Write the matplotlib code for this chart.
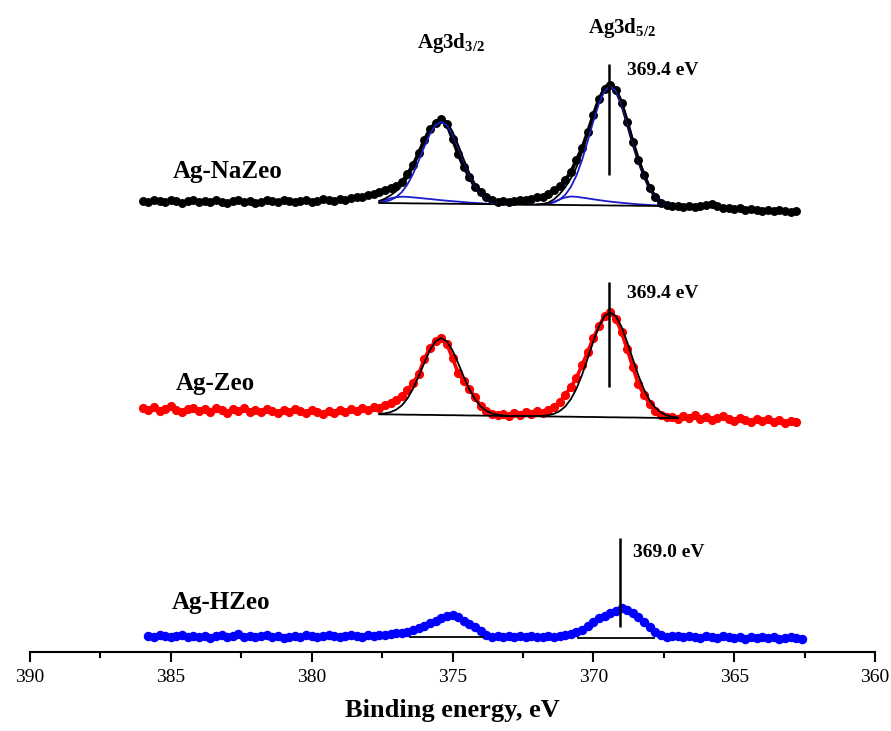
import matplotlib
matplotlib.use("Agg")
import matplotlib.pyplot as plt
import numpy as np
from matplotlib.ticker import MultipleLocator

plt.rcParams['font.family'] = ['Liberation Serif', 'DejaVu Serif']
plt.rcParams['mathtext.fontset'] = 'custom'
plt.rcParams['mathtext.rm'] = 'Liberation Serif'
plt.rcParams['mathtext.bf'] = 'Liberation Serif:bold'

# ---- measured spectra (intensity in arbitrary units, stacked) ----
# NaZeo and Zeo sampled 386.0 -> 362.8 eV, HZeo 385.8 -> 362.6 eV, 0.2 eV step
e_na = np.round(np.arange(386.0, 362.7, -0.2), 1)
e_zeo = np.round(np.arange(386.0, 362.7, -0.2), 1)
e_hz = np.round(np.arange(385.8, 362.5, -0.2), 1)

na_int = [451, 450, 452, 451, 450, 452, 451, 449, 451, 452,
          450, 451, 450, 452, 450, 449, 451, 452, 450, 451,
          449, 450, 452, 451, 450, 452, 451, 450, 451, 452,
          450, 451, 453, 452, 451, 453, 452, 454, 455, 455,
          457, 458, 460, 462, 464, 466, 470, 478, 487, 499,
          512, 523, 529, 533, 528, 513, 498, 485, 475, 465,
          460, 455, 452, 450, 451, 450, 451, 452, 452, 453,
          455, 455, 458, 462, 466, 472, 480, 492, 504, 520,
          537, 553, 563, 567, 562, 549, 530, 510, 492, 477,
          464, 455, 449, 447, 446, 446, 445, 446, 445, 446,
          447, 448, 446, 444, 444, 443, 444, 442, 443, 442,
          441, 442, 441, 442, 441, 440, 441]

zeo_int = [244, 242, 245, 241, 243, 246, 242, 240, 243, 244,
           241, 243, 240, 244, 242, 239, 243, 241, 244, 240,
           242, 240, 243, 241, 239, 242, 240, 243, 241, 239,
           242, 240, 238, 241, 239, 242, 240, 243, 241, 244,
           242, 245, 244, 247, 249, 252, 256, 262, 269, 278,
           293, 304, 311, 314, 308, 294, 279, 271, 263, 255,
           246, 241, 238, 237, 238, 236, 239, 237, 240, 238,
           241, 239, 242, 245, 250, 257, 265, 274, 287, 300,
           314, 326, 336, 340, 333, 320, 303, 285, 268, 257,
           248, 241, 237, 235, 235, 233, 236, 234, 237, 233,
           235, 232, 234, 236, 233, 231, 234, 232, 230, 233,
           231, 233, 230, 232, 229, 231, 230]

hz_int = [16, 15, 17, 16, 15, 16, 17, 15, 16, 15,
          16, 14, 16, 17, 15, 16, 18, 15, 16, 15,
          16, 17, 15, 16, 14, 15, 16, 15, 17, 16,
          15, 16, 17, 16, 15, 16, 17, 16, 15, 17,
          16, 17, 17, 18, 19, 19, 20, 22, 24, 26,
          29, 31, 34, 36, 37, 35, 31, 28, 25, 21,
          17, 15, 16, 15, 16, 15, 16, 15, 16, 15,
          15, 16, 15, 16, 17, 18, 20, 22, 26, 30,
          34, 36, 39, 41, 44, 42, 39, 35, 30, 25,
          20, 17, 15, 16, 16, 15, 16, 15, 14, 16,
          15, 14, 16, 15, 14, 15, 13, 15, 14, 15,
          14, 15, 13, 14, 15, 14, 13]

# ---- peak fits, 377.6 -> 367.0 eV ----
e_fit = np.round(np.arange(377.6, 366.9, -0.2), 1)

na_base = [449.0, 448.9, 448.9, 448.8, 448.8, 448.7, 448.6, 448.6, 448.5, 448.5,
           448.4, 448.3, 448.3, 448.2, 448.2, 448.1, 448.0, 448.0, 447.9, 447.9,
           447.8, 447.7, 447.7, 447.6, 447.6, 447.5, 447.4, 447.4, 447.3, 447.3,
           447.2, 447.1, 447.1, 447.0, 447.0, 446.9, 446.8, 446.8, 446.7, 446.7,
           446.6, 446.5, 446.5, 446.4, 446.4, 446.3, 446.2, 446.2, 446.1, 446.1,
           446.0, 445.9, 445.9, 445.8]
na_p1 = [0.6, 1.4, 3.0, 6.0, 11.1, 18.9, 29.6, 42.6, 56.8, 69.6,
         78.7, 82.0, 78.7, 69.6, 56.8, 42.6, 29.6, 18.9, 11.1, 6.0,
         3.0, 1.4, 0.6, 0.2, 0, 0, 0, 0, 0, 0,
         0, 0, 0, 0, 0, 0, 0, 0, 0, 0,
         0, 0, 0, 0, 0, 0, 0, 0, 0, 0,
         0, 0, 0, 0]
na_p2 = [0, 0, 0, 0, 0, 0, 0, 0, 0, 0,
         0, 0, 0, 0, 0, 0, 0, 0, 0, 0,
         0, 0, 0, 0, 0, 0, 0, 0, 0.2, 0.5,
         1.1, 2.5, 5.2, 10.1, 18.0, 29.6, 45.3, 64.1, 84.1, 102.0,
         114.5, 119.0, 114.5, 102.0, 84.1, 64.1, 45.3, 29.6, 18.0, 10.1,
         5.2, 2.5, 1.1, 0.5]
na_s1 = [1.5, 3.0, 4.8, 6.0, 6.5, 6.4, 6.0, 5.5, 5.0, 4.5,
         4.0, 3.5, 3.0, 2.6, 2.2, 1.8, 1.4, 1.1, 0.8, 0.5,
         0.3, 0.1, 0, 0, 0, 0, 0, 0, 0, 0,
         0, 0, 0, 0, 0, 0, 0, 0, 0, 0,
         0, 0, 0, 0, 0, 0, 0, 0, 0, 0,
         0, 0, 0, 0]
na_s2 = [0, 0, 0, 0, 0, 0, 0, 0, 0, 0,
         0, 0, 0, 0, 0, 0, 0, 0, 0, 0,
         0, 0, 0, 0, 0, 0, 0, 0, 0, 0.3,
         1.0, 3.0, 5.5, 7.5, 8.5, 8.3, 7.6, 6.8, 6.0, 5.2,
         4.5, 3.9, 3.3, 2.8, 2.3, 1.9, 1.5, 1.2, 0.9, 0.6,
         0.4, 0.2, 0.1, 0]

zeo_base = [237.7, 237.6, 237.6, 237.5, 237.4, 237.3, 237.3, 237.2, 237.1, 237.1,
            237.0, 236.9, 236.8, 236.8, 236.7, 236.6, 236.5, 236.5, 236.4, 236.3,
            236.3, 236.2, 236.1, 236.0, 236.0, 235.9, 235.8, 235.8, 235.7, 235.6,
            235.5, 235.5, 235.4, 235.3, 235.3, 235.2, 235.1, 235.0, 235.0, 234.9,
            234.8, 234.7, 234.7, 234.6, 234.5, 234.5, 234.4, 234.3, 234.2, 234.2,
            234.1, 234.0, 233.9, 233.9]
zeo_p1 = [0.4, 1.0, 2.3, 4.8, 9.2, 16.2, 26.1, 38.6, 52.2, 64.8,
          73.8, 77.0, 73.8, 64.8, 52.2, 38.6, 26.1, 16.2, 9.2, 4.8,
          2.3, 1.0, 0.4, 0.1, 0, 0, 0, 0, 0, 0,
          0, 0, 0, 0, 0, 0, 0, 0, 0, 0,
          0, 0, 0, 0, 0, 0, 0, 0, 0, 0,
          0, 0, 0, 0]
zeo_p2 = [0, 0, 0, 0, 0, 0, 0, 0, 0, 0,
          0, 0, 0, 0, 0, 0, 0, 0, 0, 0,
          0, 0, 0, 0, 0, 0, 0, 0, 0.2, 0.5,
          1.3, 2.7, 5.4, 10.1, 17.5, 28.1, 42.1, 58.6, 75.6, 90.7,
          101.2, 105.0, 101.2, 90.7, 75.6, 58.6, 42.1, 28.1, 17.5, 10.1,
          5.4, 2.7, 1.3, 0.5]

# straight background lines under the HZeo peaks
hz_bg1_e = [376.5, 373.9]
hz_bg1_h = [15, 15]
hz_bg2_e = [370.55, 367.85]
hz_bg2_h = [14.3, 14.3]

# peak position markers
mark_e = [369.43, 369.43, 369.06]
mark_lo = [477, 265, 25]
mark_hi = [588, 370, 114]
mark_text = ['369.4 eV', '369.4 eV', '369.0 eV']

series_names = ['Ag-NaZeo', 'Ag-Zeo', 'Ag-HZeo']

fig = plt.figure(figsize=(8.91, 7.31), dpi=100)
ax = fig.add_axes([30 / 891, 79 / 731, 845 / 891, 652 / 731])

ax.plot(e_na, na_int, color='black', marker='o', ms=5.4, lw=2.6, zorder=2)
ax.plot(e_zeo, zeo_int, color='#ff0000', marker='o', ms=5.6, lw=2.6, zorder=2)
ax.plot(e_hz, hz_int, color='#0000ff', marker='o', ms=5.8, lw=3.2, zorder=2)

# NaZeo fit
nb = np.array(na_base)
comps = [np.array(c) for c in (na_p1, na_p2, na_s1, na_s2)]
for c in comps:
    ax.plot(e_fit, np.where(c > 0, nb + c, np.nan), color='#1c1cc8', lw=1.3, zorder=3)
ax.plot(e_fit, nb + sum(comps), color='black', lw=1.3, zorder=3)
ax.plot(e_fit, nb, color='black', lw=1.3, zorder=3)

# Zeo fit
zb = np.array(zeo_base)
ax.plot(e_fit, zb + np.array(zeo_p1) + np.array(zeo_p2), color='black', lw=1.3, zorder=3)
ax.plot(e_fit, zb, color='black', lw=1.3, zorder=3)

# HZeo backgrounds
ax.plot(hz_bg1_e, hz_bg1_h, color='black', lw=1.3, zorder=3)
ax.plot(hz_bg2_e, hz_bg2_h, color='black', lw=1.3, zorder=3)

ax.vlines(mark_e, mark_lo, mark_hi, color='black', lw=1.8, zorder=4)

bold = dict(fontweight='bold', color='black')
ax.text(384.93, 474, series_names[0], fontsize=18, va='baseline', **bold)
ax.text(384.82, 262, series_names[1], fontsize=18, va='baseline', **bold)
ax.text(384.96, 43, series_names[2], fontsize=18, va='baseline', **bold)

ax.text(368.81, 577, mark_text[0], fontsize=14, va='baseline', **bold)
ax.text(368.81, 354, mark_text[1], fontsize=14, va='baseline', **bold)
ax.text(368.59, 95, mark_text[2], fontsize=14, va='baseline', **bold)

ax.text(376.26, 604, r'Ag3d$_{\mathregular{3/2}}$', fontsize=15, va='baseline', **bold)
ax.text(370.19, 619, r'Ag3d$_{\mathregular{5/2}}$', fontsize=15, va='baseline', **bold)

ax.set_xlim(390, 360)
ax.set_ylim(0, 652)
ax.set_xticks(np.arange(390, 359, -5))
ax.xaxis.set_minor_locator(MultipleLocator(2.5))
ax.tick_params(axis='x', which='major', direction='out', length=7.2, width=1.5,
               labelsize=14, pad=5)
ax.tick_params(axis='x', which='minor', direction='out', length=4.3, width=1.5)
ax.set_yticks([])
for s in ['left', 'right', 'top']:
    ax.spines[s].set_visible(False)
ax.spines['bottom'].set_linewidth(1.5)

ax.set_xlabel('Binding energy, eV', fontsize=19, fontweight='bold')
ax.xaxis.set_label_coords(0.5, -0.072)

fig.savefig('out.png', dpi=100)
